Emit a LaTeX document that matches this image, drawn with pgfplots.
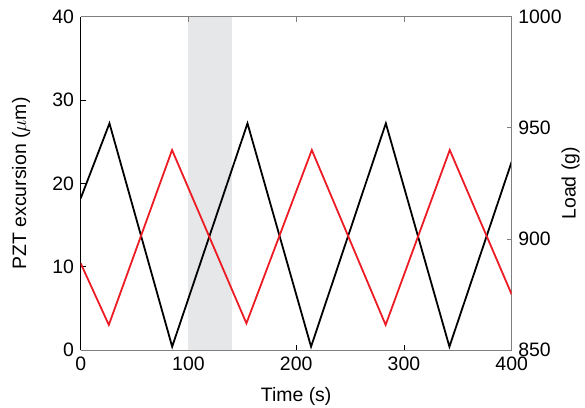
\documentclass[border=0pt]{standalone}
\usepackage{fontspec}
\setmainfont{Liberation Sans}
\usepackage{pgfplots}
\pgfplotsset{compat=1.18}
\definecolor{myred}{HTML}{ED1C24}
\definecolor{shade}{HTML}{E6E7E8}
\definecolor{spine}{HTML}{7F7F7F}
\begin{document}
\fontsize{19.5}{23}\selectfont
\begin{tikzpicture}
\useasboundingbox (-80.7bp,-58bp) rectangle (504.3bp,350bp);
\pgfplotsset{
  common/.style={
    scale only axis, width=431bp, height=333.3bp,
    xmin=0, xmax=400,
    tick align=inside, major tick length=5bp,
    /pgf/number format/assume math mode=true,
    /pgf/number format/1000 sep={},
    ticklabel style={font=\fontsize{19.5}{23}\selectfont},
    label style={font=\fontsize{19.5}{23}\selectfont},
  }
}
\begin{axis}[common,
  ymin=0, ymax=40,
  axis x line*=bottom, axis y line*=left,
  x axis line style={-, spine, line width=1bp},
  y axis line style={-, black, line width=1bp},
  xtick={0,100,200,300,400}, ytick={0,10,20,30,40},
  tick style={black, line width=0.7bp},
  xlabel={Time (s)}, ylabel={PZT excursion ($\mu$m)},
  xlabel style={at={(axis description cs:0.5,0)}, anchor=center, yshift=-46.5bp},
  ylabel style={at={(axis description cs:-0.1385,0.5)}, anchor=center},
]
\addplot[fill=shade, draw=none] coordinates {(100,0) (100,40) (140,40) (140,0)} -- cycle;
\addplot[black, line width=1.8bp] coordinates {(0,18.2) (26.7,27.2) (84.9,0.4) (154.8,27.2) (213.8,0.4) (283.2,27.2) (342.2,0.4) (400,22.6)};
\end{axis}
\begin{axis}[common,
  ymin=850, ymax=1000,
  axis x line*=top, axis y line*=right,
  x axis line style={-, spine, line width=1bp},
  y axis line style={-, spine, line width=1bp},
  xtick={100,200,300}, xticklabel=\empty,
  ytick={850,900,950,1000},
  tick style={spine, line width=0.7bp},
  ylabel={Load (g)},
  ylabel style={at={(axis description cs:1.1369,0.5)}, anchor=center},
]
\addplot[myred, line width=1.8bp] coordinates {(0,889) (26.1,861.3) (84.8,940) (153.8,862) (214.5,940) (283,861.3) (342.5,940) (400,875)};
\end{axis}
\end{tikzpicture}
\end{document}
